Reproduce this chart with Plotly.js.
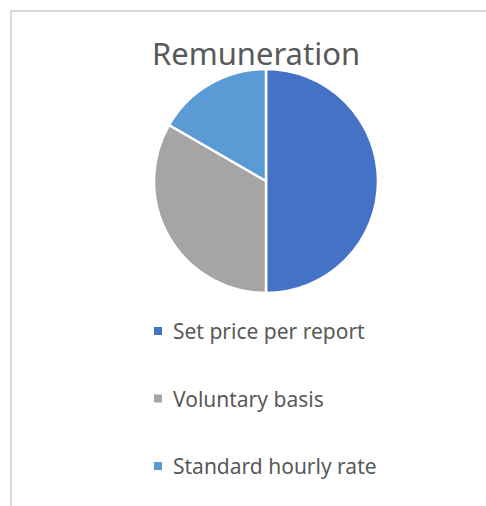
<!DOCTYPE html>
<html>
<head>
<meta charset="utf-8">
<script src="https://cdn.plot.ly/plotly-3.0.1.min.js"></script>
<style>
html,body{margin:0;padding:0;background:#fff;}
#wrap{position:relative;width:486px;height:506px;overflow:hidden;}
#frame{position:absolute;left:10px;top:10px;width:480px;height:500px;border-top:2px solid #d9d9d9;border-left:2px solid #d9d9d9;box-sizing:border-box;}
#chart{position:absolute;left:0;top:0;width:486px;height:506px;}
</style>
</head>
<body>
<div id="wrap"><div id="frame"></div><div id="chart"></div></div>
<script>
const chartTitle = "Remuneration";
const categories = ["Set price per report", "Voluntary basis", "Standard hourly rate"];
const shares = [3, 2, 1];
const sliceColors = ["#4472C4", "#A5A5A5", "#5B9BD5"];

const W = 486, H = 506;
const px = x => x / W;
const py = y => 1 - y / H;

// pie placement (pixels)
const cx = 266, cy = 181, r = 112;

const legendRows = [331, 398.5, 466];
const annotations = categories.map((c, i) => ({
  text: c, showarrow: false,
  xref: "paper", yref: "paper",
  x: px(171), y: py(legendRows[i]),
  xanchor: "left", yanchor: "middle",
  font: {family: "Noto Sans", size: 21, color: "#595959"}
}));
const shapes = categories.map((c, i) => ({
  type: "rect", xref: "paper", yref: "paper",
  x0: px(154), x1: px(162),
  y0: py(legendRows[i] + 4), y1: py(legendRows[i] - 4),
  fillcolor: sliceColors[i], line: {width: 0}
}));

const data = [{
  type: "pie",
  labels: categories,
  values: shares,
  sort: false,
  direction: "clockwise",
  rotation: 0,
  textinfo: "none",
  hoverinfo: "label+percent",
  marker: {colors: sliceColors, line: {color: "#ffffff", width: 2.5}},
  domain: {x: [px(cx - r), px(cx + r)], y: [py(cy + r), py(cy - r)]},
  showlegend: false
}];

const layout = {
  width: W, height: H,
  margin: {l: 0, r: 0, t: 0, b: 0},
  paper_bgcolor: "rgba(0,0,0,0)",
  plot_bgcolor: "rgba(0,0,0,0)",
  title: {
    text: chartTitle,
    font: {family: "Noto Sans", size: 31, color: "#595959"},
    x: px(256), xanchor: "center",
    xref: "paper", yref: "paper",
    y: py(54), yanchor: "middle"
  },
  showlegend: false,
  annotations: annotations,
  shapes: shapes
};

Plotly.newPlot("chart", data, layout, {displayModeBar: false, staticPlot: true});
</script>
</body>
</html>
